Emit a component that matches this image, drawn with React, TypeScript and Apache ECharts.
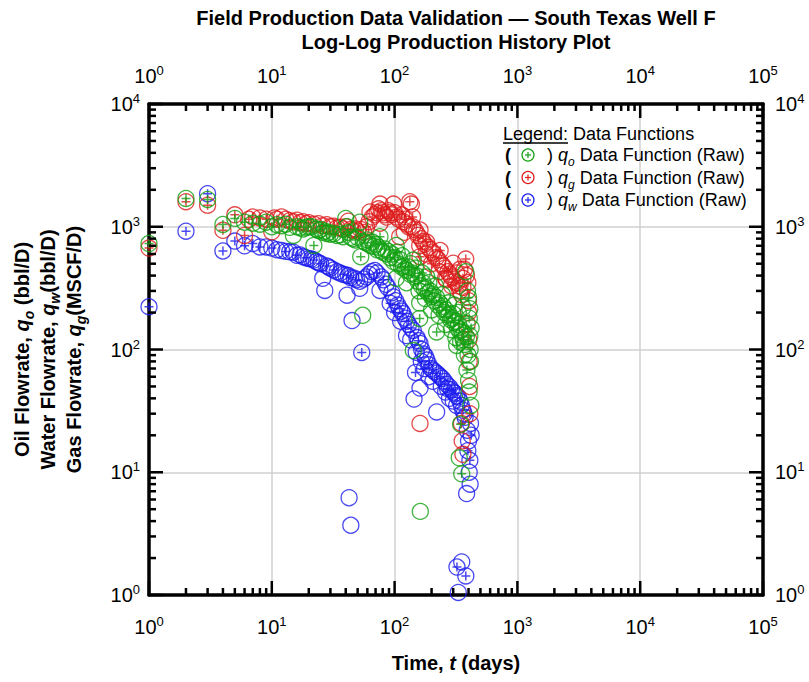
import React, { useEffect, useRef } from "react";
import * as echarts from "echarts";

// [time (days), rate]
const oilData: [number, number][] = [
  [1, 730], [2, 1700], [3, 1670], [4, 1045], [5, 1170], [6, 1090], [7, 1070], [8, 1050], [9, 1090], [10, 1000],
  [11, 1040], [12, 1020], [13, 1050], [14, 990], [15, 850], [16, 1000], [17, 980], [18, 960], [19, 990], [20, 1000],
  [21, 1000], [22, 705], [23, 960], [24, 930], [25, 950], [26, 900], [27, 920], [28, 880], [29, 900], [30, 870],
  [32, 880], [34, 850], [36, 860], [38, 830], [40, 1170], [41, 1000], [42, 900], [44, 820], [46, 800], [48, 780],
  [50, 820], [52, 1090], [53, 570], [55, 190], [56, 760], [58, 740], [60, 780], [62, 720], [64, 700], [66, 750],
  [68, 690], [70, 720], [72, 650], [74, 680], [76, 830], [78, 640], [80, 620], [83, 660], [86, 600], [89, 630],
  [92, 560], [95, 600], [98, 520], [100, 560], [103, 705], [103, 380], [105, 620], [106, 500], [110, 540], [114, 470],
  [115, 580], [118, 480], [122, 450], [125, 350], [126, 440], [130, 470], [134, 410], [135, 500], [138, 420], [142, 535],
  [142, 98], [146, 390], [148, 460], [150, 400], [155, 360], [158, 300], [160, 239], [160, 179], [162, 4.8], [165, 330],
  [168, 420], [170, 350], [175, 310], [178, 260], [180, 320], [183, 390], [188, 290], [190, 350], [195, 300], [200, 270],
  [200, 210], [205, 280], [210, 250], [215, 330], [220, 265], [220, 139], [225, 230], [230, 190], [232, 240], [240, 215],
  [245, 280], [248, 225], [255, 200], [260, 160], [262, 210], [270, 190], [275, 240], [278, 195], [286, 175], [290, 145],
  [294, 180], [300, 196], [305, 230], [308, 165], [315, 125], [316, 170], [320, 108], [325, 150], [330, 200], [332, 160],
  [336, 13.1], [340, 140], [345, 24.6], [345, 115], [348, 145], [352, 9.7], [356, 130], [360, 220], [362, 120], [368, 135],
  [370, 90], [375, 110], [380, 430], [384, 127], [388, 68], [392, 300], [396, 90], [400, 265], [400, 56], [404, 45],
  [406, 180], [410, 215], [410, 129], [412, 100], [415, 80], [418, 35], [420, 150],
];

const gasData: [number, number][] = [
  [1, 670], [2, 1600], [3, 1500], [4, 935], [5, 1250], [6, 850], [6.5, 1150], [7, 1200], [8, 1180], [9, 1150],
  [10, 910], [10.5, 1180], [11, 1150], [12, 1200], [13, 1150], [14, 1120], [15, 1100], [16, 1130], [17, 1080], [18, 1100],
  [19, 1060], [20, 1080], [22, 1050], [24, 1060], [26, 1020], [28, 1040], [30, 1000], [32, 1010], [34, 980], [36, 990],
  [38, 960], [40, 1000], [42, 1110], [44, 950], [46, 930], [48, 960], [50, 920], [53, 950], [56, 900], [59, 1000],
  [62, 1100], [63, 1320], [66, 1200], [69, 1250], [72, 1300], [74, 1400], [76, 1530], [76, 1070], [78, 1350], [80, 1300],
  [83, 1250], [86, 1200], [89, 1350], [92, 1300], [95, 1250], [98, 1530], [100, 1300], [104, 1200], [108, 1150], [110, 830],
  [114, 1250], [118, 1100], [120, 900], [122, 1150], [126, 1050], [130, 1000], [133, 1600], [137, 1530], [140, 1000], [140, 1200],
  [145, 950], [150, 900], [155, 850], [160, 700], [161, 940], [161, 570], [161, 25], [165, 800], [170, 760], [176, 720],
  [180, 600], [182, 750], [188, 680], [195, 650], [200, 500], [202, 620], [210, 600], [218, 560], [226, 540], [230, 430],
  [235, 640], [240, 500], [248, 480], [256, 460], [260, 380], [265, 370], [272, 430], [280, 410], [290, 390], [290, 330],
  [300, 505], [310, 360], [320, 350], [320, 420], [330, 330], [340, 300], [340, 450], [350, 280], [350, 25], [355, 18],
  [360, 320], [360, 380], [360, 14], [370, 450], [380, 545], [385, 400], [390, 162], [395, 350], [400, 250], [400, 200],
  [402, 120], [405, 80], [408, 50], [410, 30],
];

const waterData: [number, number][] = [
  [1, 223], [2, 920], [3, 1860], [4, 635], [5, 764], [6, 700], [7, 730], [8, 685], [9, 685], [10, 670],
  [11, 650], [12, 640], [13, 630], [14, 625], [15, 620], [16, 585], [17, 590], [18, 570], [19, 560], [20, 550],
  [21, 545], [22, 535], [23, 520], [24, 510], [25, 500], [26, 380], [27, 303], [28, 480], [29, 470], [30, 460],
  [32, 445], [34, 430], [36, 420], [38, 410], [40, 405], [41, 277], [42, 400], [42.6, 6.2], [44, 3.7], [44, 385],
  [45, 172], [47, 380], [49, 370], [52, 315], [52, 360], [54, 94.6], [56, 375], [59, 390], [62, 410], [65, 430],
  [69, 440], [72, 420], [76, 303], [78, 390], [81, 370], [85, 340], [88, 320], [92, 238], [95, 290], [98, 268],
  [100, 200], [102, 250], [106, 230], [110, 215], [112, 170], [114, 205], [117, 196], [122, 180], [125, 130], [126, 170],
  [130, 160], [135, 120], [136, 150], [142, 143], [144, 39.5], [148, 65], [150, 95], [152, 125], [156, 118], [161, 112],
  [161, 48.5], [165, 80], [166, 100], [172, 92], [175, 70], [178, 88], [183, 82], [190, 75], [190, 60], [198, 70],
  [205, 68], [205, 55], [212, 66], [220, 64], [220, 31], [228, 62], [235, 60], [240, 50], [245, 58], [255, 55],
  [260, 45], [265, 52], [270, 48], [280, 49.5], [280, 40], [290, 47], [300, 45], [300, 38], [310, 44], [320, 42],
  [320, 35], [322, 1.69], [330, 41], [330, 1.05], [340, 38], [350, 35], [352, 1.86], [360, 32], [368, 30], [375, 28],
  [380, 1.43], [386, 6.7], [390, 22], [395, 15], [400, 18], [405, 10], [410, 12.5], [412, 8], [415, 25], [420, 20],
];

const xExponents = [0, 1, 2, 3, 4, 5];
const yExponents = [0, 1, 2, 3, 4];
const minorMultipliers = [2, 3, 4, 5, 6, 7, 8, 9];

const TITLE_1 = "Field Production Data Validation \u2014 South Texas Well F";
const TITLE_2 = "Log-Log Production History Plot";

const C_OIL = "#12a012";
const C_GAS = "#dd1c1c";
const C_WATER = "#1c1cee";
const FONT = "'Liberation Sans', Arial, Helvetica, sans-serif";

const labelRich = {
  b: { fontSize: 20, fontFamily: FONT, color: "#000", verticalAlign: "bottom" as const, lineHeight: 20 },
  s: { fontSize: 13, fontFamily: FONT, color: "#000", verticalAlign: "bottom" as const, lineHeight: 13, padding: [0, 0, 9, 0] },
};
const expLabel = (v: number) => `{b|10}{s|${Math.round(Math.log10(v))}}`;

function makeSeries(data: [number, number][], color: string, name: string) {
  return [
    {
      type: "scatter",
      name,
      data,
      symbol: "circle",
      symbolSize: 16,
      clip: false,
      silent: true,
      emphasis: { disabled: true },
      itemStyle: { color: "rgba(0,0,0,0)", borderColor: color, borderWidth: 1.3 },
    },
    {
      type: "scatter",
      name: name + " marks",
      data: data.filter((d, i) => i % 3 === 0 || d[0] <= 8),
      symbol: "path://M4,0L4,8M0,4L8,4",
      symbolSize: 9,
      clip: false,
      silent: true,
      emphasis: { disabled: true },
      itemStyle: { color: "rgba(0,0,0,0)", borderColor: color, borderWidth: 1.5 },
    },
  ];
}

function axisBase(extra: any) {
  return {
    type: "log",
    logBase: 10,
    axisLine: { show: true, onZero: false, lineStyle: { color: "#000", width: 3.5 } },
    axisTick: { show: false },
    minorTick: { show: false },
    splitLine: { show: false },
    ...extra,
  };
}

export default function App() {
  const ref = useRef<HTMLDivElement>(null);
  useEffect(() => {
    const chart = echarts.init(ref.current!, null, { renderer: "svg" });
    const grid = { left: 149, right: 46, top: 104, bottom: 87 };
    chart.setOption({
      animation: false,
      backgroundColor: "#fff",
      grid,
      xAxis: [
        axisBase({
          min: 1, max: 100000, position: "bottom",
          splitLine: { show: true, lineStyle: { color: "#d0d0d0", width: 1.5 } },
          axisLabel: { formatter: expLabel, rich: labelRich, margin: 22, showMinLabel: true, showMaxLabel: true, hideOverlap: false },
        }),
        axisBase({
          min: 1, max: 100000, position: "top",
          axisLabel: { formatter: expLabel, rich: labelRich, margin: 18, showMinLabel: true, showMaxLabel: true, hideOverlap: false },
        }),
      ],
      yAxis: [
        axisBase({
          min: 1, max: 10000, position: "left",
          splitLine: { show: true, lineStyle: { color: "#d0d0d0", width: 1.5 } },
          axisLabel: { formatter: expLabel, rich: labelRich, margin: 9, showMinLabel: true, showMaxLabel: true, hideOverlap: false },
        }),
        axisBase({
          min: 1, max: 10000, position: "right",
          axisLabel: { formatter: expLabel, rich: labelRich, margin: 12, showMinLabel: true, showMaxLabel: true, hideOverlap: false },
        }),
      ],
      series: [
        ...makeSeries(waterData, C_WATER, "qw"),
        ...makeSeries(gasData, C_GAS, "qg"),
        ...makeSeries(oilData, C_OIL, "qo"),
      ],
    });

    const px = (v: number) => chart.convertToPixel({ xAxisIndex: 0 }, v) as unknown as number;
    const py = (v: number) => chart.convertToPixel({ yAxisIndex: 0 }, v) as unknown as number;
    const x0 = px(1), x1 = px(100000), yb = py(1), yt = py(10000);
    const MAJ = 14, MIN = 7;
    const tickStyle = { stroke: "#000", lineWidth: 2.5 };
    const ticks: any[] = [];
    const addX = (v: number, len: number) => {
      const x = px(v);
      ticks.push({ type: "line", shape: { x1: x, y1: yb, x2: x, y2: yb - len }, style: tickStyle, z: 10 });
      ticks.push({ type: "line", shape: { x1: x, y1: yt, x2: x, y2: yt + len }, style: tickStyle, z: 10 });
    };
    const addY = (v: number, len: number) => {
      const y = py(v);
      ticks.push({ type: "line", shape: { x1: x0, y1: y, x2: x0 + len, y2: y }, style: tickStyle, z: 10 });
      ticks.push({ type: "line", shape: { x1: x1, y1: y, x2: x1 - len, y2: y }, style: tickStyle, z: 10 });
    };
    xExponents.forEach((e, i) => {
      addX(Math.pow(10, e), MAJ);
      if (i < xExponents.length - 1) minorMultipliers.forEach((m) => addX(m * Math.pow(10, e), MIN));
    });
    yExponents.forEach((e, i) => {
      addY(Math.pow(10, e), MAJ);
      if (i < yExponents.length - 1) minorMultipliers.forEach((m) => addY(m * Math.pow(10, e), MIN));
    });

    const cx = (x0 + x1) / 2;
    const cy = (yb + yt) / 2;
    const boldRich = (size: number) => ({
      n: { fontSize: size, fontWeight: "bold", fontFamily: FONT, fill: "#000", verticalAlign: "bottom", padding: [0, 0, 4, 0] },
      q: { fontSize: size, fontWeight: "bold", fontStyle: "italic", fontFamily: FONT, fill: "#000", verticalAlign: "bottom", padding: [0, 0, 4, 0] },
      sub: { fontSize: Math.round(size * 0.68), fontWeight: "bold", fontStyle: "italic", fontFamily: FONT, fill: "#000", verticalAlign: "bottom" },
    });
    const regRich = (size: number) => ({
      n: { fontSize: size, fontFamily: FONT, fill: "#000", verticalAlign: "bottom", padding: [0, 0, 4, 0] },
      q: { fontSize: size, fontStyle: "italic", fontFamily: FONT, fill: "#000", verticalAlign: "bottom", padding: [0, 0, 4, 0] },
      sub: { fontSize: Math.round(size * 0.68), fontStyle: "italic", fontFamily: FONT, fill: "#000", verticalAlign: "bottom" },
    });

    const statics: any[] = [
      { type: "text", x: cx, y: 18, style: { text: TITLE_1, font: `bold 20px ${FONT}`, fill: "#000", align: "center", verticalAlign: "middle" } },
      { type: "text", x: cx, y: 42, style: { text: TITLE_2, font: `bold 20px ${FONT}`, fill: "#000", align: "center", verticalAlign: "middle" } },
      {
        type: "text", x: cx, y: 665,
        style: { text: "{n|Time, }{q|t}{n| (days)}", rich: boldRich(20), align: "center", verticalAlign: "middle" },
      },
      {
        type: "text", x: 24, y: cy, rotation: Math.PI / 2,
        style: { text: "{n|Oil Flowrate, }{q|q}{sub|o}{n| (bbl/D)}", rich: boldRich(20), align: "center", verticalAlign: "middle" },
      },
      {
        type: "text", x: 50, y: cy, rotation: Math.PI / 2,
        style: { text: "{n|Water Flowrate, }{q|q}{sub|w}{n|(bbl/D)}", rich: boldRich(20), align: "center", verticalAlign: "middle" },
      },
      {
        type: "text", x: 76, y: cy, rotation: Math.PI / 2,
        style: { text: "{n|Gas Flowrate, }{q|q}{sub|g}{n|(MSCF/D)}", rich: boldRich(20), align: "center", verticalAlign: "middle" },
      },
      // legend
      { type: "text", x: 503, y: 134, style: { text: "Legend: Data Functions", font: `18px ${FONT}`, fill: "#000", align: "left", verticalAlign: "middle" }, z: 20 },
      { type: "line", shape: { x1: 503, y1: 143, x2: 568, y2: 143 }, style: { stroke: "#000", lineWidth: 1.5 }, z: 20 },
    ];
    const legendItems = [
      { color: C_OIL, sub: "o" },
      { color: C_GAS, sub: "g" },
      { color: C_WATER, sub: "w" },
    ];
    legendItems.forEach((it, i) => {
      const y = 155 + i * 22.5;
      statics.push({ type: "text", x: 505, y, style: { text: "(", font: `bold 18px ${FONT}`, fill: "#000", align: "left", verticalAlign: "middle" }, z: 20 });
      statics.push({ type: "circle", shape: { cx: 528, cy: y, r: 6 }, style: { fill: "none", stroke: it.color, lineWidth: 1.2 }, z: 20 });
      statics.push({ type: "line", shape: { x1: 525, y1: y, x2: 531, y2: y }, style: { stroke: it.color, lineWidth: 1.2 }, z: 20 });
      statics.push({ type: "line", shape: { x1: 528, y1: y - 3, x2: 528, y2: y + 3 }, style: { stroke: it.color, lineWidth: 1.2 }, z: 20 });
      statics.push({
        type: "text", x: 547, y: y + 2,
        style: { text: `{n|) }{q|q}{sub|${it.sub}}{n| Data Function (Raw)}`, rich: regRich(18), align: "left", verticalAlign: "middle" },
        z: 20,
      });
    });

    chart.setOption({ graphic: [...statics, ...ticks] });
    return () => chart.dispose();
  }, []);
  return <div ref={ref} style={{ position: "fixed", left: 0, top: 0, width: 809, height: 682 }} />;
}
